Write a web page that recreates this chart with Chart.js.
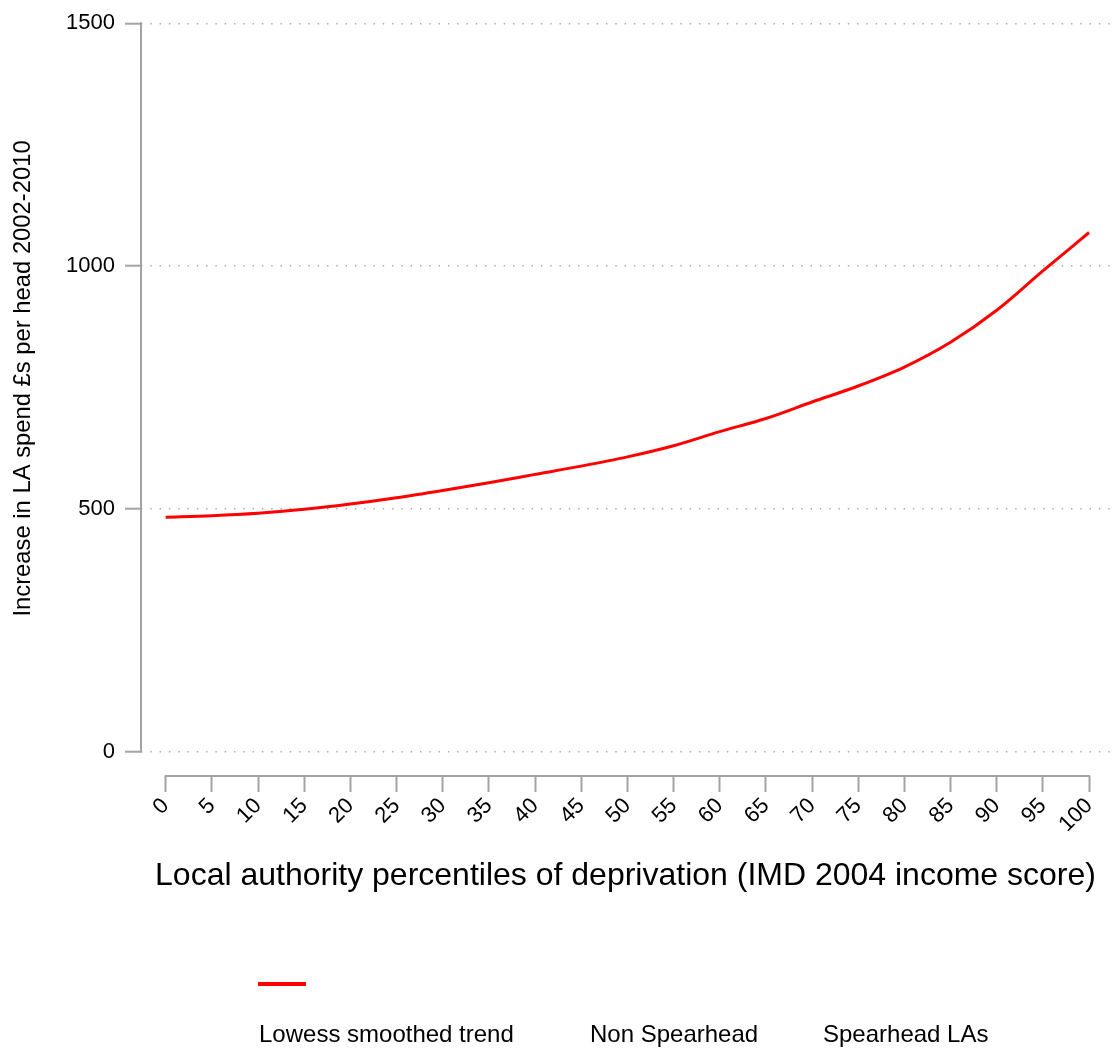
<!DOCTYPE html>
<html>
<head>
<meta charset="utf-8">
<title>LA spend per head by deprivation percentile</title>
<script src="https://cdn.jsdelivr.net/npm/chart.js@4.4.1/dist/chart.umd.min.js"></script>
<style>
  html, body { margin: 0; padding: 0; background: #ffffff; }
  canvas { display: block; }
</style>
</head>
<body>
<canvas id="chart" width="1116" height="1050"></canvas>
<script>
// Deprivation percentiles and the lowess-smoothed increase in spend (£ per head)
const percentiles = [0, 5, 10, 15, 20, 25, 30, 35, 40, 45, 50, 55, 60, 65, 70, 75, 80, 85, 90, 95, 100];
const lowessTrend = [483, 486, 491, 499, 510, 523, 538, 554, 571, 588, 607, 630, 659, 686, 720, 753, 792, 843, 909, 990, 1069];

// Axis ticks
const xTickValues = [0, 5, 10, 15, 20, 25, 30, 35, 40, 45, 50, 55, 60, 65, 70, 75, 80, 85, 90, 95, 100];
const yTickValues = [0, 500, 1000, 1500];

// Text
const xTitle = 'Local authority percentiles of deprivation (IMD 2004 income score)';
const yTitle = 'Increase in LA spend £s per head 2002-2010';
const legendLabels = ['Lowess smoothed trend', 'Non Spearhead', 'Spearhead LAs'];

const FONT = "'Liberation Sans', Arial, Helvetica, sans-serif";
const AXIS_GREY = '#a3a3a3';
const GRID_GREY = '#a8a8a8';
const TREND_RED = '#ff0000';

Chart.defaults.font.family = FONT;
Chart.defaults.color = '#000000';

// Axis lines span only the labelled range, offset from the plot like a Stata graph
const axisLines = {
  id: 'axisLines',
  afterDraw(chart) {
    const { ctx, chartArea, scales } = chart;
    const xs = scales.x, ys = scales.y;
    ctx.save();
    ctx.strokeStyle = AXIS_GREY;
    ctx.lineWidth = 2;
    ctx.lineCap = 'butt';
    // y axis
    ctx.beginPath();
    ctx.moveTo(chartArea.left, ys.getPixelForValue(yTickValues[0]) + 1);
    ctx.lineTo(chartArea.left, ys.getPixelForValue(yTickValues[yTickValues.length - 1]) - 1);
    ctx.stroke();
    // x axis
    ctx.beginPath();
    ctx.moveTo(xs.getPixelForValue(xTickValues[0]) - 1, chartArea.bottom);
    ctx.lineTo(xs.getPixelForValue(xTickValues[xTickValues.length - 1]) + 1, chartArea.bottom);
    ctx.stroke();
    ctx.restore();
  }
};

// Vertical axis title, centred on the labelled 0-1500 range
const yAxisTitle = {
  id: 'yAxisTitle',
  afterDraw(chart) {
    const { ctx, scales } = chart;
    const ys = scales.y;
    const midY = (ys.getPixelForValue(yTickValues[0]) + ys.getPixelForValue(yTickValues[yTickValues.length - 1])) / 2 - 9;
    ctx.save();
    ctx.translate(30, midY);
    ctx.rotate(-Math.PI / 2);
    ctx.fillStyle = '#000000';
    ctx.font = '23.8px ' + FONT;
    ctx.textAlign = 'center';
    ctx.textBaseline = 'alphabetic';
    ctx.fillText(yTitle, 0, 0);
    ctx.restore();
  }
};

// Legend: key row above a row of labels; only the trend has a visible key
const keyLegend = {
  id: 'keyLegend',
  afterDraw(chart) {
    const { ctx } = chart;
    const labelX = [259, 590, 823];
    const keyY = 984;
    const textY = 1042;
    ctx.save();
    ctx.strokeStyle = TREND_RED;
    ctx.lineWidth = 4;
    ctx.beginPath();
    ctx.moveTo(labelX[0] - 1, keyY);
    ctx.lineTo(labelX[0] + 47, keyY);
    ctx.stroke();
    ctx.fillStyle = '#000000';
    ctx.font = '24px ' + FONT;
    ctx.textAlign = 'left';
    ctx.textBaseline = 'alphabetic';
    legendLabels.forEach((t, i) => ctx.fillText(t, labelX[i], textY));
    ctx.restore();
  }
};

new Chart(document.getElementById('chart'), {
  type: 'line',
  data: {
    datasets: [{
      label: legendLabels[0],
      data: percentiles.map((p, i) => ({ x: p, y: lowessTrend[i] })),
      borderColor: TREND_RED,
      borderWidth: 3,
      pointRadius: 0,
      fill: false,
      cubicInterpolationMode: 'monotone'
    }]
  },
  options: {
    responsive: false,
    animation: false,
    devicePixelRatio: 1,
    layout: { padding: { left: 0, top: 20, right: 6, bottom: 150 } },
    plugins: {
      legend: { display: false },
      tooltip: { enabled: false },
      title: { display: false }
    },
    scales: {
      x: {
        type: 'linear',
        min: -2.675,
        max: 102.27,
        afterBuildTicks(scale) { scale.ticks = xTickValues.map(v => ({ value: v })); },
        afterFit(scale) { scale.height = 124; },
        border: { display: false },
        grid: {
          display: true,
          drawOnChartArea: false,
          drawTicks: true,
          tickLength: 16,
          tickColor: AXIS_GREY,
          tickWidth: 2,
          tickBorderDash: []
        },
        ticks: {
          minRotation: 45,
          maxRotation: 45,
          padding: 1,
          font: { size: 22 },
          color: '#000000',
          callback: v => String(v)
        },
        title: {
          display: true,
          text: xTitle,
          font: { size: 32 },
          color: '#000000',
          padding: { top: 0, bottom: 5 }
        }
      },
      y: {
        type: 'linear',
        min: -50,
        max: 1500,
        afterBuildTicks(scale) { scale.ticks = yTickValues.map(v => ({ value: v })); },
        afterFit(scale) { scale.width = 141; },
        border: { display: false, dash: [1.4, 7.9] },
        grid: {
          display: true,
          drawOnChartArea: true,
          drawTicks: true,
          color: GRID_GREY,
          lineWidth: 1.4,
          tickLength: 16,
          tickColor: AXIS_GREY,
          tickWidth: 2,
          tickBorderDash: []
        },
        ticks: {
          padding: 10,
          font: { size: 22 },
          color: '#000000',
          callback: v => String(v)
        },
        title: { display: false }
      }
    }
  },
  plugins: [axisLines, yAxisTitle, keyLegend]
});
</script>
</body>
</html>
